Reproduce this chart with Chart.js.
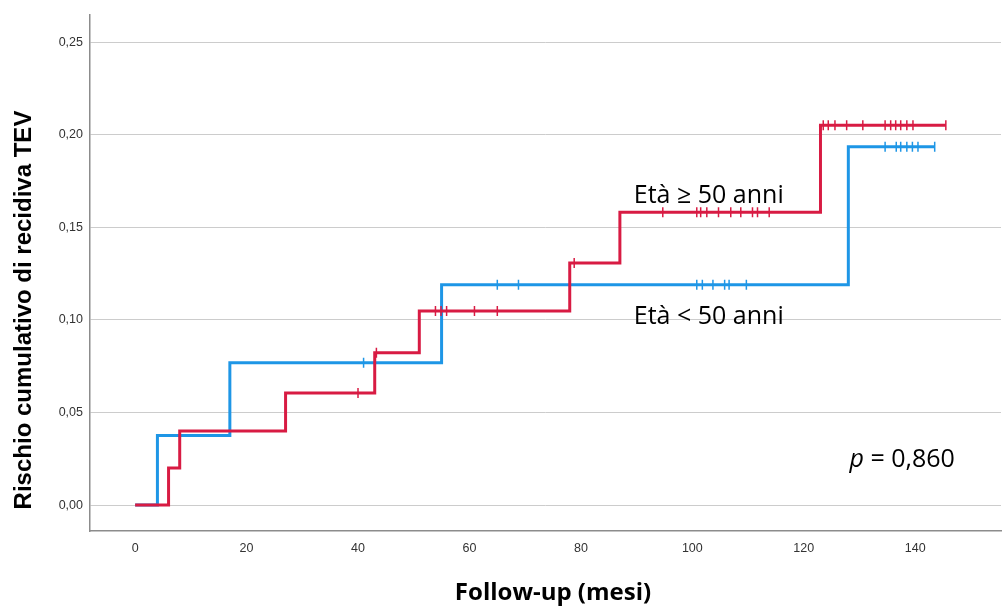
<!DOCTYPE html>
<html>
<head>
<meta charset="utf-8">
<script src="https://cdn.jsdelivr.net/npm/chart.js@4.4.1/dist/chart.umd.min.js"></script>
<style>
  html, body { margin: 0; padding: 0; background: #fff; overflow: hidden; }
  #wrap { width: 1002px; height: 608px; position: relative; }
  #wrap canvas { display: block; }
</style>
</head>
<body>
<div id="wrap"><canvas id="km"></canvas></div>
<script>
// ===== 数据 =====
// Età ≥ 50 anni (rosso)
var OLD_TIMES = [0, 6, 8, 27, 43, 51, 78, 87, 123, 145.5];
var OLD_RISK = [0, 0.020, 0.040, 0.0606, 0.0823, 0.1048, 0.1308, 0.1582, 0.2052, 0.2052];
var OLD_CENSOR = [40, 43.3, 53.9, 54.9, 55.9, 60.9, 65, 78.8, 94.7, 100.8, 101.5, 102.6, 104.7,
  106.9, 108.7, 110.8, 111.7, 113.8, 123.5, 124.4, 125.6, 127.7, 130.6, 134.6, 135.6, 136.5,
  137.4, 138.5, 139.6, 145.5];

// Età < 50 anni (blu)
var YOUNG_TIMES = [0, 4, 17, 55, 128, 143.5];
var YOUNG_RISK = [0, 0.0376, 0.0769, 0.119, 0.1935, 0.1935];
var YOUNG_CENSOR = [41, 65, 68.8, 100.8, 101.8, 103.7, 105.8, 106.6, 109.7, 134.6, 136.6,
  137.4, 138.5, 139.5, 140.5, 143.5];

var X_TICKS = [0, 20, 40, 60, 80, 100, 120, 140];
var Y_TICKS = [0, 0.05, 0.10, 0.15, 0.20, 0.25];

var RED = '#D81B43';
var BLUE = '#1E96E6';

// ===== 工具函数 =====
function toPoints(times, vals) {
  return times.map(function(t, i) { return { x: t, y: vals[i] }; });
}

// valore della curva a gradini al tempo t
function riskAt(times, vals, t) {
  var v = vals[0];
  for (var i = 0; i < times.length; i++) {
    if (times[i] <= t) v = vals[i];
  }
  return v;
}

function censorPoints(censor, times, vals) {
  return censor.map(function(t) { return { x: t, y: riskAt(times, vals, t) }; });
}

// ===== titoli assi + annotazioni =====
var labelsPlugin = {
  id: 'kmLabels',
  afterDatasetsDraw: function(chart) {
    var ctx = chart.ctx;
    var xs = chart.scales.x, ys = chart.scales.y;
    ctx.save();
    ctx.fillStyle = '#000';
    ctx.textBaseline = 'middle';
    ctx.textAlign = 'left';
    ctx.font = '25px "Open Sans", sans-serif';
    ctx.fillText('Età ≥ 50 anni', xs.getPixelForValue(89.5), ys.getPixelForValue(0.167));
    ctx.fillText('Età < 50 anni', xs.getPixelForValue(89.5), ys.getPixelForValue(0.1016));

    var px = xs.getPixelForValue(128.2), py = ys.getPixelForValue(0.0245);
    ctx.font = 'italic 25px "Open Sans", sans-serif';
    ctx.fillText('p', px, py);
    var w = ctx.measureText('p').width;
    ctx.font = '25px "Open Sans", sans-serif';
    ctx.fillText(' = 0,860', px + w, py);

    // titolo asse x
    ctx.textAlign = 'center';
    ctx.font = 'bold 24px "Open Sans", sans-serif';
    ctx.fillText('Follow-up (mesi)', 553, 593);

    // titolo asse y
    ctx.translate(24, 310);
    ctx.rotate(-Math.PI / 2);
    ctx.font = 'bold 24px "Liberation Sans", Arial, sans-serif';
    ctx.fillText('Rischio cumulativo di recidiva TEV', 0, 0);
    ctx.restore();
  }
};

function fixTicks(list) {
  return function(scale) {
    scale.ticks = list.map(function(v) { return { value: v }; });
  };
}

var chart = new Chart(document.getElementById('km'), {
  type: 'line',
  data: {
    datasets: [
      {
        label: 'Età ≥ 50 anni',
        data: toPoints(OLD_TIMES, OLD_RISK),
        borderColor: RED,
        borderWidth: 3,
        stepped: true,
        pointRadius: 0,
        fill: false,
        order: 1
      },
      {
        label: 'Età ≥ 50 anni censurati',
        data: censorPoints(OLD_CENSOR, OLD_TIMES, OLD_RISK),
        showLine: false,
        pointStyle: 'line',
        rotation: 90,
        pointRadius: 5,
        borderColor: RED,
        borderWidth: 1.5,
        order: 0
      },
      {
        label: 'Età < 50 anni',
        data: toPoints(YOUNG_TIMES, YOUNG_RISK),
        borderColor: BLUE,
        borderWidth: 3,
        stepped: true,
        pointRadius: 0,
        fill: false,
        order: 3
      },
      {
        label: 'Età < 50 anni censurati',
        data: censorPoints(YOUNG_CENSOR, YOUNG_TIMES, YOUNG_RISK),
        showLine: false,
        pointStyle: 'line',
        rotation: 90,
        pointRadius: 5,
        borderColor: BLUE,
        borderWidth: 1.5,
        order: 2
      }
    ]
  },
  options: {
    responsive: true,
    maintainAspectRatio: false,
    animation: false,
    layout: { autoPadding: false, padding: { top: 12, right: 1, bottom: 0, left: 0 } },
    plugins: {
      legend: { display: false },
      tooltip: { enabled: false }
    },
    scales: {
      x: {
        type: 'linear',
        min: -8.1,
        max: 155.4,
        afterBuildTicks: fixTicks(X_TICKS),
        afterFit: function(s) { s.height = 77; s.paddingLeft = 0; s.paddingRight = 0; },
        grid: { display: false, drawTicks: false },
        border: { display: true, color: '#8c8c8c', width: 1.5 },
        ticks: {
          padding: 10,
          color: '#333',
          font: { family: '"Liberation Sans", Arial, sans-serif', size: 12.5 }
        }
      },
      y: {
        type: 'linear',
        min: -0.014,
        max: 0.265,
        afterBuildTicks: fixTicks(Y_TICKS),
        afterFit: function(s) { s.width = 90; },
        grid: { color: '#cccccc', lineWidth: 1, drawTicks: false },
        border: { display: true, color: '#8c8c8c', width: 1.5 },
        ticks: {
          padding: 7,
          color: '#333',
          font: { family: '"Liberation Sans", Arial, sans-serif', size: 12.5 },
          callback: function(v) { return v.toFixed(2).replace('.', ','); }
        }
      }
    }
  },
  plugins: [labelsPlugin]
});
</script>
</body>
</html>
